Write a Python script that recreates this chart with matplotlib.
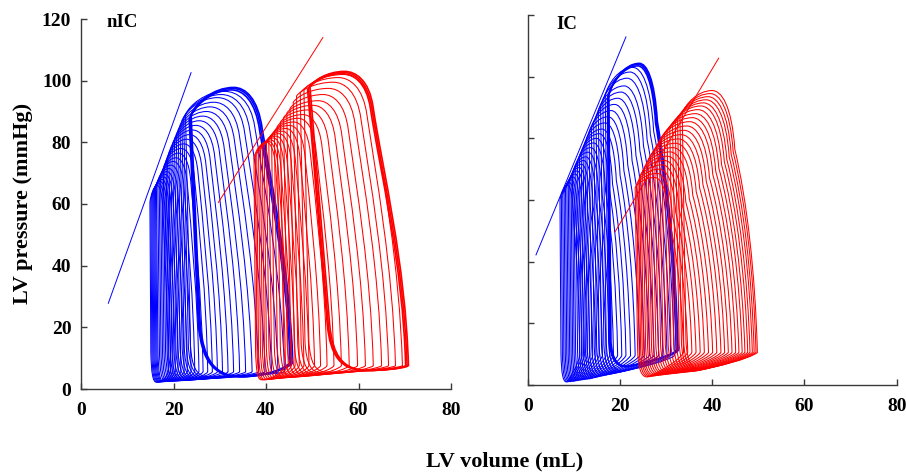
import matplotlib
matplotlib.use("Agg")
import matplotlib.pyplot as plt
from matplotlib.path import Path
from matplotlib.patches import PathPatch

# ---------------- data ----------------
# nIC, blue family: baseline (steady-state) loops
nic_blue_base_esv = [23.6, 23.4, 23.8]
nic_blue_base_edv = [45.5, 45.2, 45.8]
nic_blue_base_pes = [88.0, 87.5, 89.0]
nic_blue_base_ppk = [97.5, 97.0, 97.8]
# nIC, blue family: occlusion loops
nic_blue_edv = [44.0, 42.6, 41.2, 39.8, 38.4, 37.0, 35.6, 34.3, 33.0, 31.8, 30.6, 29.5, 28.4,
                27.4, 26.4, 25.5, 24.6, 23.8, 23.0, 22.3, 21.6, 21.0, 20.4, 19.9, 19.4, 18.9]
nic_blue_esv = [22.6, 22.2, 21.8, 21.4, 21.0, 20.6, 20.2, 19.8, 19.4, 19.0, 18.7, 18.4, 18.1,
                17.8, 17.5, 17.2, 16.9, 16.6, 16.3, 16.1, 15.9, 15.7, 15.5, 15.3, 15.1, 14.9]
nic_blue_ppk = [96.5, 95.5, 94.5, 93.0, 91.5, 90.0, 88.5, 87.0, 85.5, 84.0, 82.5, 81.0, 79.5,
                78.0, 76.5, 75.0, 73.8, 72.6, 71.5, 70.5, 69.6, 68.8, 68.0, 67.3, 66.6, 66.0]
nic_blue_pes = [89.0, 88.0, 87.0, 85.5, 84.0, 82.5, 81.0, 79.5, 78.0, 76.5, 75.0, 74.0, 72.5,
                71.5, 70.0, 69.0, 68.0, 67.0, 66.0, 65.0, 64.2, 63.5, 62.8, 62.0, 61.3, 60.5]
nic_blue_pmin = [4.0, 3.8, 3.6, 3.4, 3.3, 3.2, 3.1, 3.0, 2.9, 2.8, 2.8, 2.7, 2.7,
                 2.6, 2.6, 2.5, 2.5, 2.5, 2.4, 2.4, 2.4, 2.3, 2.3, 2.3, 2.2, 2.2]

# nIC, red family
nic_red_base_esv = [49.2, 49.0, 49.5]
nic_red_base_edv = [70.5, 70.2, 70.8]
nic_red_base_pes = [97.5, 97.0, 98.0]
nic_red_base_ppk = [102.7, 102.3, 103.0]
nic_red_edv = [69.5, 68.0, 66.5, 65.0, 63.2, 61.5, 59.8, 58.0, 56.3, 54.7,
               53.2, 51.8, 50.5, 49.3, 48.2, 47.2, 46.3, 45.5, 44.8, 44.2]
nic_red_esv = [48.2, 47.4, 46.6, 45.9, 45.2, 44.5, 43.8, 43.1, 42.4, 41.8,
               41.2, 40.6, 40.1, 39.6, 39.2, 38.8, 38.4, 38.0, 37.7, 37.4]
nic_red_ppk = [102.0, 101.0, 99.5, 97.5, 95.5, 93.5, 92.0, 90.5, 89.0, 87.8,
               86.6, 85.5, 84.5, 83.6, 82.8, 82.0, 81.4, 80.8, 80.3, 80.0]
nic_red_pes = [97.0, 96.0, 95.0, 93.0, 91.0, 89.5, 88.0, 86.5, 85.0, 83.5,
               82.2, 81.0, 80.0, 79.0, 78.0, 77.3, 76.6, 76.0, 75.5, 75.0]
nic_red_pmin = [5.5, 5.2, 5.0, 4.8, 4.6, 4.4, 4.2, 4.0, 3.9, 3.8,
                3.7, 3.6, 3.5, 3.4, 3.3, 3.2, 3.1, 3.0, 3.0, 3.0]

# IC, blue family
ic_blue_base_esv = [17.4, 17.3, 17.6]
ic_blue_base_edv = [32.4, 32.2, 32.6]
ic_blue_base_pes = [93.5, 93.0, 94.0]
ic_blue_base_ppk = [104.0, 103.5, 104.3]
ic_blue_edv = [31.8, 31.0, 30.2, 29.3, 28.4, 27.4, 26.4, 25.3, 24.3, 23.3, 22.3, 21.3, 20.4,
               19.5, 18.6, 17.8, 17.0, 16.2, 15.5, 14.8, 14.1, 13.5, 12.9, 12.3, 11.8, 11.3]
ic_blue_esv = [16.8, 16.3, 15.8, 15.3, 14.8, 14.3, 13.8, 13.3, 12.8, 12.4, 12.0, 11.6, 11.2,
               10.8, 10.4, 10.0, 9.7, 9.4, 9.1, 8.8, 8.5, 8.2, 7.9, 7.6, 7.3, 7.0]
ic_blue_ppk = [103.0, 101.5, 99.5, 97.0, 95.0, 93.0, 91.0, 89.0, 87.0, 85.0, 83.0, 81.5, 80.0,
               78.5, 77.0, 75.5, 74.0, 72.8, 71.6, 70.5, 69.4, 68.4, 67.4, 66.5, 65.6, 64.8]
ic_blue_pes = [94.0, 92.0, 90.5, 89.0, 87.0, 85.0, 83.5, 82.0, 80.0, 78.5, 77.0, 75.5, 74.0,
               72.5, 71.0, 69.8, 68.6, 67.4, 66.3, 65.2, 64.2, 63.2, 62.3, 61.5, 60.7, 60.0]
ic_blue_pmin = [4.5, 4.2, 4.0, 3.8, 3.6, 3.4, 3.2, 3.0, 2.8, 2.6, 2.4, 2.2, 2.0,
                1.9, 1.8, 1.7, 1.6, 1.5, 1.4, 1.3, 1.2, 1.2, 1.1, 1.1, 1.0, 1.0]

# IC, red family
ic_red_esv = [33.5, 33.0, 32.5, 32.0, 31.4, 30.8, 30.2, 29.6, 29.0, 28.5, 28.0, 27.5,
              27.0, 26.5, 26.1, 25.7, 25.3, 24.9, 24.5, 24.2, 23.9, 23.6, 23.3]
ic_red_edv = [49.8, 49.5, 49.1, 48.7, 48.2, 47.7, 47.1, 46.5, 45.8, 45.1, 44.3, 43.5,
              42.7, 41.9, 41.0, 40.1, 39.2, 38.3, 37.4, 36.5, 35.6, 34.7, 33.8]
ic_red_ppk = [95.5, 94.5, 93.5, 92.5, 91.5, 90.5, 89.3, 88.0, 86.7, 85.4, 84.0, 82.6,
              81.2, 79.8, 78.4, 77.0, 75.6, 74.2, 72.8, 71.4, 70.0, 68.6, 67.3]
ic_red_pes = [88.0, 87.0, 86.0, 85.0, 84.0, 83.0, 82.0, 81.0, 80.0, 79.0, 77.5, 76.3,
              75.0, 74.0, 73.0, 71.8, 70.6, 69.4, 68.3, 67.2, 66.0, 65.0, 64.0]
ic_red_pmin = [5.0, 4.8, 4.6, 4.5, 4.4, 4.3, 4.2, 4.1, 4.0, 3.9, 3.8, 3.7,
               3.6, 3.5, 3.4, 3.3, 3.2, 3.1, 3.0, 2.9, 2.8, 2.7, 2.6]

# end-diastolic pressures per family
nic_blue_ped = 5.5
nic_red_ped = 7.5
ic_blue_ped = 9.5
ic_red_ped = 10.5

# ESPVR lines (two end points each: volume, pressure)
nic_blue_espvr_v = [5.9, 23.8]
nic_blue_espvr_p = [27.8, 102.6]
nic_red_espvr_v = [29.7, 52.3]
nic_red_espvr_p = [60.5, 114.0]
ic_blue_espvr_v = [1.8, 21.3]
ic_blue_espvr_p = [42.2, 112.9]
ic_red_espvr_v = [18.9, 41.4]
ic_red_espvr_p = [49.6, 106.0]

x_ticks = [0, 20, 40, 60, 80]
y_ticks = [0, 20, 40, 60, 80, 100, 120]

# ---------------- drawing ----------------
BLUE = "#0000ff"
RED = "#ff0000"
FONT = "Liberation Serif"

SHAPE_NIC = dict(lean=0.30, pr=0.88, pkf=0.40, tilt=0.05, hc=10.0, rv=0.18, c2=0.10, flat=0.0)
SHAPE_NIC_BASE_B = dict(lean=0.30, pr=0.86, pkf=0.42, tilt=0.09, hc=17.0, rv=0.42, c2=0.10, flat=0.0)
SHAPE_NIC_BASE_R = dict(lean=0.36, pr=0.89, pkf=0.35, tilt=0.20, hc=15.0, rv=0.40, c2=0.10, flat=0.0)
SHAPE_IC = dict(lean=0.30, pr=0.80, pkf=0.40, tilt=0.05, hc=9.0, rv=0.20, c2=0.16, flat=0.6)
SHAPE_IC_BASE = dict(lean=0.30, pr=0.82, pkf=0.44, tilt=0.03, hc=8.0, rv=0.25, c2=0.14, flat=0.6)


def loop_path(esv, edv, pes, ppk, ped, pmin, s):
    W = edv - esv
    Vr = edv - s["lean"] * W
    Pr = s["pr"] * ppk
    Vpk = esv + s["pkf"] * W
    Vc = esv + s["tilt"] * W
    Pc = pmin + s["hc"]
    rv = min(max(s["rv"] * W, 1.2), 0.6 * (edv - Vc))
    Vb = Vc + rv
    pb = pmin
    verts = [
        (edv, ped),
        (edv - 0.03 * W, ped + 0.4 * (Pr - ped)), (Vr + s["c2"] * W, Pr - 0.25 * (Pr - ped)), (Vr, Pr),
        (Vr - 0.04 * W, Pr + 0.75 * (ppk - Pr)), (Vpk + 0.4 * (Vr - Vpk), ppk), (Vpk, ppk),
        (Vpk - 0.5 * (Vpk - esv), ppk), (esv + 0.1 * (Vpk - esv), pes + 0.4 * (ppk - pes)), (esv, pes),
        (esv + (Vc - esv) / 3, pes - (pes - Pc) / 3), (esv + 2 * (Vc - esv) / 3, pes - 2 * (pes - Pc) / 3), (Vc, Pc),
        (Vc + 0.08 * rv, Pc - 0.7 * (Pc - pb)), (Vc + 0.35 * rv, pb), (Vb, pb),
        (Vb + (edv - Vb) / 3, pb + s["flat"] * (ped - pb) / 3),
        (edv - 0.15 * (edv - Vb), pb + (0.4 + 0.4 * s["flat"]) * (ped - pb)), (edv, ped),
    ]
    codes = [Path.MOVETO] + [Path.CURVE4] * 18
    return Path(verts, codes)


def draw_family(ax, esv, edv, pes, ppk, ped, pmin, shape, color, lw):
    if not isinstance(pmin, list):
        pmin = [pmin] * len(esv)
    for a, b, c, d, m in zip(esv, edv, pes, ppk, pmin):
        ax.add_patch(PathPatch(loop_path(a, b, c, d, ped, m, shape),
                               facecolor="none", edgecolor=color, lw=lw))


fig = plt.figure(figsize=(9.06, 4.73), dpi=100)
axL = fig.add_axes([81 / 906, 84 / 473, 370 / 906, 370 / 473])
axR = fig.add_axes([527.7 / 906, 88 / 473, 369 / 906, 370 / 473])

THIN = 0.75
THICK = 1.2

# left panel: nIC
draw_family(axL, nic_blue_esv, nic_blue_edv, nic_blue_pes, nic_blue_ppk,
            nic_blue_ped, nic_blue_pmin, SHAPE_NIC, BLUE, THIN)
draw_family(axL, nic_blue_base_esv, nic_blue_base_edv, nic_blue_base_pes, nic_blue_base_ppk,
            nic_blue_ped + 3.0, 4.0, SHAPE_NIC_BASE_B, BLUE, THICK)
draw_family(axL, nic_red_esv, nic_red_edv, nic_red_pes, nic_red_ppk,
            nic_red_ped, nic_red_pmin, SHAPE_NIC, RED, THIN)
draw_family(axL, nic_red_base_esv, nic_red_base_edv, nic_red_base_pes, nic_red_base_ppk,
            nic_red_ped, 6.0, SHAPE_NIC_BASE_R, RED, THICK)
axL.plot(nic_blue_espvr_v, nic_blue_espvr_p, color=BLUE, lw=0.7)
axL.plot(nic_red_espvr_v, nic_red_espvr_p, color=RED, lw=0.7)

# right panel: IC
draw_family(axR, ic_blue_esv, ic_blue_edv, ic_blue_pes, ic_blue_ppk,
            ic_blue_ped, ic_blue_pmin, SHAPE_IC, BLUE, THIN)
draw_family(axR, ic_blue_base_esv, ic_blue_base_edv, ic_blue_base_pes, ic_blue_base_ppk,
            ic_blue_ped + 1.5, 6.0, SHAPE_IC_BASE, BLUE, THICK)
draw_family(axR, ic_red_esv, ic_red_edv, ic_red_pes, ic_red_ppk,
            ic_red_ped, ic_red_pmin, SHAPE_IC, RED, THIN)
axR.plot(ic_blue_espvr_v, ic_blue_espvr_p, color=BLUE, lw=0.7)
axR.plot(ic_red_espvr_v, ic_red_espvr_p, color=RED, lw=0.7)

for ax, show_y in ((axL, True), (axR, False)):
    ax.set_xlim(0, 80)
    ax.set_ylim(0, 120)
    ax.set_xticks(x_ticks)
    ax.set_yticks(y_ticks)
    ax.spines["top"].set_visible(False)
    ax.spines["right"].set_visible(False)
    for sp in ("left", "bottom"):
        ax.spines[sp].set_color("#3a3a3a")
        ax.spines[sp].set_linewidth(1.0)
    ax.tick_params(direction="in", length=4, width=1.0, color="#3a3a3a")
    ax.tick_params(axis="x", pad=9)
    ax.tick_params(axis="y", pad=7)
    ax.set_xticklabels([str(t) for t in x_ticks], fontfamily=FONT, fontweight="bold", fontsize=14)
    if show_y:
        ax.set_yticklabels([str(t) for t in y_ticks], fontfamily=FONT, fontweight="bold", fontsize=14)
    else:
        ax.set_yticklabels([])
    ax.patch.set_visible(False)

axL.text(5.6, 119, "nIC", fontfamily=FONT, fontweight="bold", fontsize=13.5, ha="left", va="center")
axR.text(6.1, 117, "IC", fontfamily=FONT, fontweight="bold", fontsize=13.5, ha="left", va="center")

fig.text(505 / 906, 1 - 461 / 473, "LV volume (mL)", fontfamily=FONT, fontweight="bold",
         fontsize=16, ha="center", va="center")
fig.text(23 / 906, 1 - 203 / 473, "LV pressure (mmHg)", fontfamily=FONT, fontweight="bold",
         fontsize=16, ha="center", va="center", rotation=90)

fig.savefig("out.png", dpi=100)
